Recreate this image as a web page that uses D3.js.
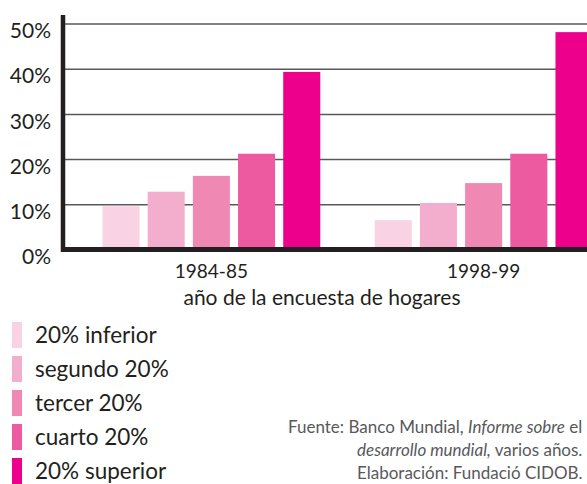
<!DOCTYPE html>
<html>
<head>
<meta charset="utf-8">
<script src="https://cdn.jsdelivr.net/npm/d3@7"></script>
<style>
  body { margin: 0; background: #fff; }
  svg { display: block; font-family: Lato, "Open Sans", sans-serif; }
</style>
</head>
<body>
<div id="chart"></div>
<script>
// data
var years = ["1984-85", "1998-99"];
var quintiles = ["20% inferior", "segundo 20%", "tercer 20%", "cuarto 20%", "20% superior"];
var share1984 = [9.7, 12.9, 16.4, 21.3, 39.4];
var share1998 = [6.6, 10.4, 14.8, 21.3, 48.2];
var yTicks = [0, 10, 20, 30, 40, 50];
var colors = ["#f9d3e4", "#f4aecd", "#f088b4", "#ee5aa0", "#ec008c"];
var sourceLines = [
    [{t: "Fuente: Banco Mundial, "}, {t: "Informe sobre", i: true}, {t: " el"}],
    [{t: "desarrollo mundial,", i: true}, {t: " varios años."}],
    [{t: "Elaboración: Fundació CIDOB."}]
];

var svgWidth = 587;
var svgHeight = 484;

var chartMargin = { top: 24, left: 63, right: 0 };
var zeroY = 250;

var svg = d3.select("#chart")
    .append("svg")
    .attr("width", svgWidth)
    .attr("height", svgHeight);

var yScale = d3.scaleLinear()
    .domain([0, 50])
    .range([zeroY, chartMargin.top]);

// outer scale for the two survey years (second group runs past the edge)
var x0 = d3.scaleBand()
    .domain(years)
    .range([chartMargin.left, 632])
    .paddingInner(0.2)
    .paddingOuter(0.145);

var x1 = d3.scaleBand()
    .domain(quintiles)
    .range([0, x0.bandwidth()])
    .paddingInner(0.18)
    .paddingOuter(0);

// gridlines
svg.append("g")
    .selectAll("line")
    .data(yTicks.filter(d => d > 0))
    .enter()
    .append("line")
    .attr("x1", chartMargin.left)
    .attr("x2", svgWidth)
    .attr("y1", d => yScale(d))
    .attr("y2", d => yScale(d))
    .attr("stroke", "#58595b")
    .attr("stroke-width", 1.5);

var tableData = years.map((y, i) => ({ year: y, values: i === 0 ? share1984 : share1998 }));

var groups = svg.append("g")
    .selectAll("g")
    .data(tableData)
    .enter()
    .append("g")
    .attr("transform", d => `translate(${x0(d.year)},0)`);

groups.selectAll("rect")
    .data(d => d.values.map((v, i) => ({ q: quintiles[i], v: v, c: colors[i] })))
    .enter()
    .append("rect")
    .attr("x", d => x1(d.q))
    .attr("y", d => yScale(d.v))
    .attr("width", x1.bandwidth())
    .attr("height", d => zeroY - yScale(d.v))
    .attr("fill", d => d.c);

// thick axis lines
svg.append("line")
    .attr("x1", 63)
    .attr("x2", 63)
    .attr("y1", 15)
    .attr("y2", 252)
    .attr("stroke", "#231f20")
    .attr("stroke-width", 4.5);

svg.append("line")
    .attr("x1", 61)
    .attr("x2", svgWidth)
    .attr("y1", 249.5)
    .attr("y2", 249.5)
    .attr("stroke", "#231f20")
    .attr("stroke-width", 5);

// y tick labels, sitting a little below their gridlines
var leftAxis = d3.axisLeft(yScale)
    .tickValues(yTicks)
    .tickFormat(d => d + "%")
    .tickSize(0)
    .tickPadding(12);

var yAxis = svg.append("g")
    .attr("transform", "translate(63,7)")
    .call(leftAxis);
yAxis.select(".domain").remove();
yAxis.selectAll("text")
    .attr("font-size", 21)
    .attr("font-family", "Lato, sans-serif")
    .attr("fill", "#231f20");

// x category labels
var bottomAxis = d3.axisBottom(x0).tickSize(0).tickPadding(0);
var xAxis = svg.append("g")
    .attr("transform", "translate(0,263)")
    .call(bottomAxis);
xAxis.select(".domain").remove();
xAxis.selectAll("text")
    .attr("font-size", 19)
    .attr("font-family", "Lato, sans-serif")
    .attr("fill", "#231f20")
    .attr("dy", "0.8em");

svg.append("text")
    .attr("x", 322)
    .attr("y", 305)
    .attr("text-anchor", "middle")
    .attr("font-size", 21)
    .attr("fill", "#231f20")
    .text("año de la encuesta de hogares");

// legend
var legend = svg.append("g")
    .selectAll("g")
    .data(quintiles)
    .enter()
    .append("g")
    .attr("transform", (d, i) => `translate(12, ${322 + i * 34})`);

legend.append("rect")
    .attr("width", 10)
    .attr("height", 26)
    .attr("fill", (d, i) => colors[i]);

legend.append("text")
    .attr("x", 23)
    .attr("y", 20.5)
    .attr("font-size", 22.5)
    .attr("fill", "#231f20")
    .text(d => d);

// source note
var noteX = [288, 357, 357];
var note = svg.append("g");
sourceLines.forEach(function (parts, i) {
    var t = note.append("text")
        .attr("x", noteX[i])
        .attr("y", 433 + i * 23)
        .attr("font-size", 17)
        .attr("fill", "#58595b");
    parts.forEach(function (p) {
        t.append("tspan")
            .attr("font-style", p.i ? "italic" : "normal")
            .text(p.t);
    });
});
</script>
</body>
</html>
